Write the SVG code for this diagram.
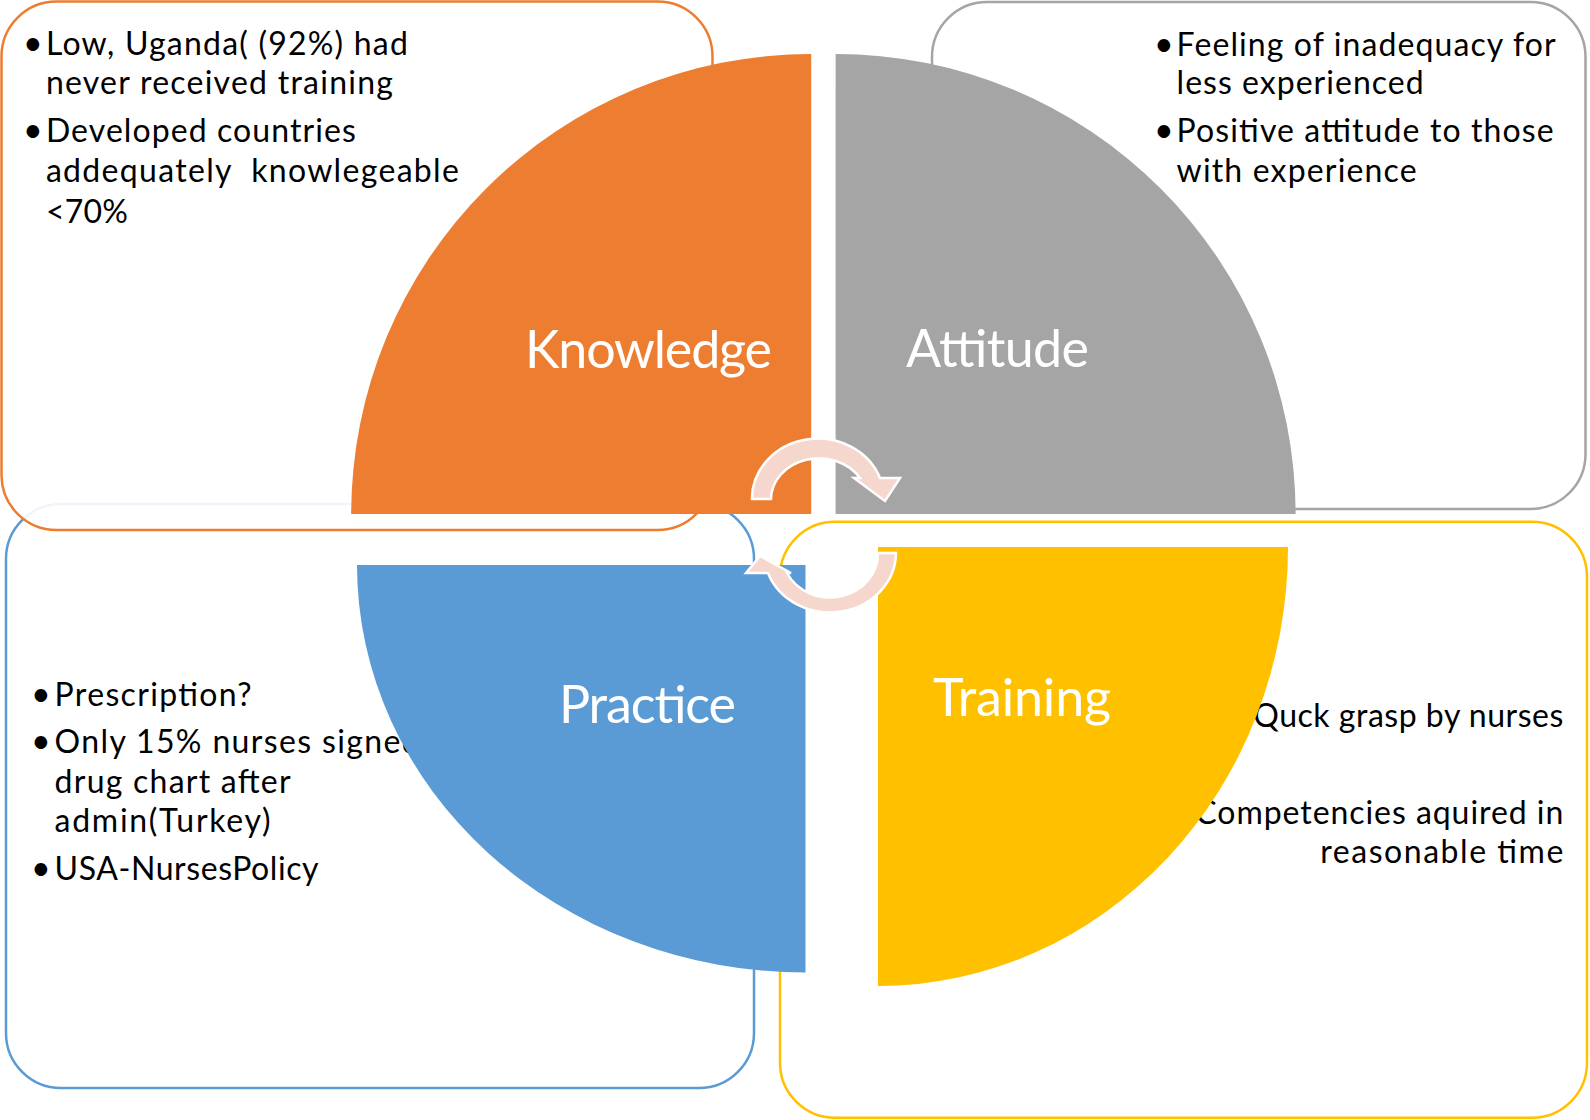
<svg xmlns="http://www.w3.org/2000/svg" width="1590" height="1120" viewBox="0 0 1590 1120">
<style>
.box{stroke-width:2.5}
.t{font-family:Lato,"Open Sans","Liberation Sans",sans-serif;font-size:32px;fill:#000}
.b{font-family:Lato,"Open Sans","Liberation Sans",sans-serif;font-size:34px;fill:#000}
.lbl{font-family:Lato,"Open Sans","Liberation Sans",sans-serif;font-size:52px;fill:#fff}
.arr{fill:#F6D7CD;stroke:#fff;stroke-width:2.5;stroke-linejoin:miter}
</style>
<rect width="1590" height="1120" fill="#fff"/>
<g id="practice-box">
<rect class="box" x="6" y="504" width="748" height="584" rx="55" fill="#fff" stroke="#5B9BD5"/>
<text class="b" x="31" y="706">•</text><text class="t" x="54.6" y="706" textLength="197">Prescription?</text>
<text class="b" x="31" y="753">•</text><text class="t" x="54.6" y="753" textLength="365">Only 15% nurses signed</text>
<text class="t" x="54.6" y="793" textLength="236">drug chart after</text>
<text class="t" x="54.6" y="832" textLength="216">admin(Turkey)</text>
<text class="b" x="31" y="880">•</text><text class="t" x="54.6" y="880" textLength="264">USA-NursesPolicy</text>
</g>
<g id="knowledge-box">
<rect class="box" x="1.5" y="1.5" width="711" height="528.5" rx="55" fill="#fff" fill-opacity="0.9" stroke="#ED7D31"/>
<text class="b" x="23" y="55">•</text><text class="t" x="45.9" y="55" textLength="362">Low, Uganda( (92%) had</text>
<text class="t" x="45.9" y="94" textLength="347">never received training</text>
<text class="b" x="23" y="142">•</text><text class="t" x="45.9" y="142" textLength="310">Developed countries</text>
<text class="t" x="45.9" y="182" xml:space="preserve" textLength="413">addequately  knowlegeable</text>
<text class="t" x="45.9" y="223" textLength="82">&lt;70%</text>
</g>
<g id="attitude-box">
<rect class="box" x="932" y="2" width="653.5" height="507" rx="55" fill="#fff" stroke="#A5A5A5"/>
<text class="b" x="1154" y="56">•</text><text class="t" x="1176.6" y="56" textLength="379">Feeling of inadequacy for</text>
<text class="t" x="1176.6" y="94" textLength="247">less experienced</text>
<text class="b" x="1154" y="142">•</text><text class="t" x="1176.6" y="142" textLength="377">Positive attitude to those</text>
<text class="t" x="1176.6" y="182" textLength="240">with experience</text>
</g>
<g id="training-box">
<rect class="box" x="780" y="521.7" width="807" height="596" rx="55" fill="#fff" stroke="#FFC000"/>
<text class="t" x="1563.3" y="727" text-anchor="end" textLength="310">Quck grasp by nurses</text>
<text class="t" x="1563.3" y="824" text-anchor="end" textLength="368">Competencies aquired in</text>
<text class="t" x="1563.3" y="863" text-anchor="end" textLength="243">reasonable time</text>
</g>
<g id="knowledge">
<path d="M811.2 514 L351.2 514 A460 460 0 0 1 811.2 54 Z" fill="#ED7D31"/>
<text class="lbl" x="525" y="368" textLength="247">Knowledge</text>
</g>
<g id="attitude">
<path d="M835.6 514 L835.6 54 A460 460 0 0 1 1295.6 514 Z" fill="#A5A5A5"/>
<text class="lbl" x="906" y="367" textLength="183">Attitude</text>
</g>
<g id="practice">
<path d="M805.5 565 L805.5 972.5 A448.5 407.5 0 0 1 357 565 Z" fill="#5B9BD5"/>
<text class="lbl" x="559" y="723" textLength="177">Practice</text>
</g>
<g id="training">
<path d="M878 547 L1288 547 A410 439 0 0 1 878 986 Z" fill="#FFC000"/>
<text class="lbl" x="933" y="715.5" textLength="178">Training</text>
</g>
<g id="connectors">
<path class="arr" d="M752 499 A66 60 0 0 1 880 478 L900 478 L885 501 L854 478 L860 478 A48 41 0 0 0 771 499 Z"/>
<path class="arr" d="M896 553 A66 60 0 0 1 768 573 L746 573 L760 556 L791 573 L787 573 A48 44 0 0 0 878 553 Z"/>
</g>
</svg>
